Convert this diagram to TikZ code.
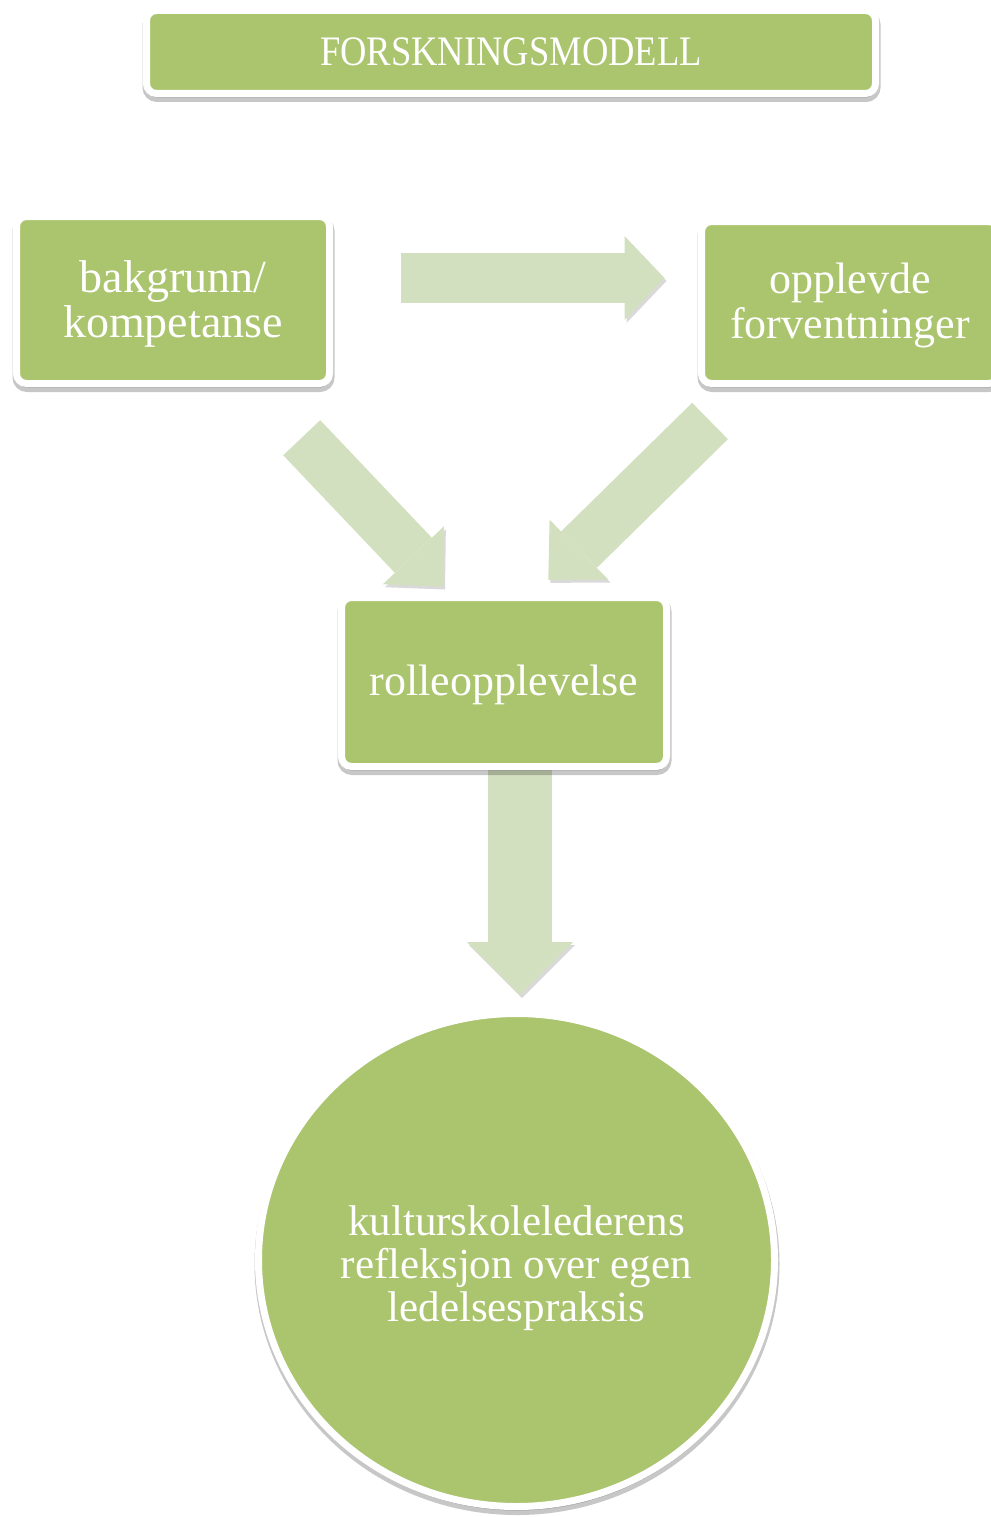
\documentclass[tikz,border=0pt]{standalone}
\usepackage{fontspec}
\setmainfont{Liberation Serif}
\usetikzlibrary{shapes.geometric,shadows,arrows.meta,calc}
\pgfdeclarelayer{background}
\pgfsetlayers{background,main}
\definecolor{boxgreen}{RGB}{171,196,110}
\definecolor{arrowgreen}{RGB}{211,224,192}
\tikzset{
  greenbox/.style={rectangle,rounded corners=10pt,fill=boxgreen,draw=white,line width=7pt,
    text=white,inner sep=0pt,align=center,font=\fontsize{44}{45}\selectfont,
    drop shadow={shadow xshift=0.5pt,shadow yshift=-4pt,fill=black,draw=black,line width=9pt,opacity=.22}},
  blockarrow/.style n args={3}{draw=arrowgreen,line width=#1,
    -{Triangle[width=#2,length=#3,line width=0pt]},
    preaction={draw=black!15,transform canvas={xshift=2pt,yshift=-3pt}}}
}

\begin{document}
\begin{tikzpicture}[x=1pt,y=-1pt]
  \useasboundingbox (0,0) rectangle (990,1517);
  \node[greenbox,minimum width=729,minimum height=83] (title) at (511,52)
    {\fontsize{42}{42}\selectfont\scalebox{0.87}[1]{FORSKNINGSMODELL}};
  \node[greenbox,minimum width=313,minimum height=167,font=\fontsize{46}{45}\selectfont] (bak) at (173,300)
    {\rule{0pt}{39pt}bakgrunn/\\kompetanse};
  \node[greenbox,minimum width=297,minimum height=162] (forv) at (850,302.5)
    {\rule{0pt}{36pt}opplevde\\forventninger};
  \node[greenbox,minimum width=325,minimum height=169] (rolle) at (504,682)
    {\rule{0pt}{36pt}rolleopplevelse};
  \node[greenbox,ellipse,minimum width=516,minimum height=493,font=\fontsize{43}{43}\selectfont] (refl) at (516.5,1260)
    {\rule{0pt}{47pt}kulturskolelederens\\refleksjon over egen\\ledelsespraksis};

  \begin{pgfonlayer}{background}
    \draw[blockarrow={50pt}{84pt}{40pt}] ($(bak.east)+(67.5,-22)$) -- ($(forv.west)+(-33.5,-24.5)$);
    \draw[blockarrow={51pt}{84pt}{43pt}] ($(bak.south)+(128.7,50.7)$) -- ($(rolle.north)+(-61,-7.5)$);
    \draw[blockarrow={51pt}{84pt}{43pt}] ($(forv.south)+(-140,34)$) -- ($(rolle.north)+(44.3,-14.2)$);
    \draw[blockarrow={64pt}{106pt}{53pt}] ($(rolle.south)+(16,0)$) -- ($(refl.north)+(3.5,-15)$);
  \end{pgfonlayer}
\end{tikzpicture}
\end{document}
